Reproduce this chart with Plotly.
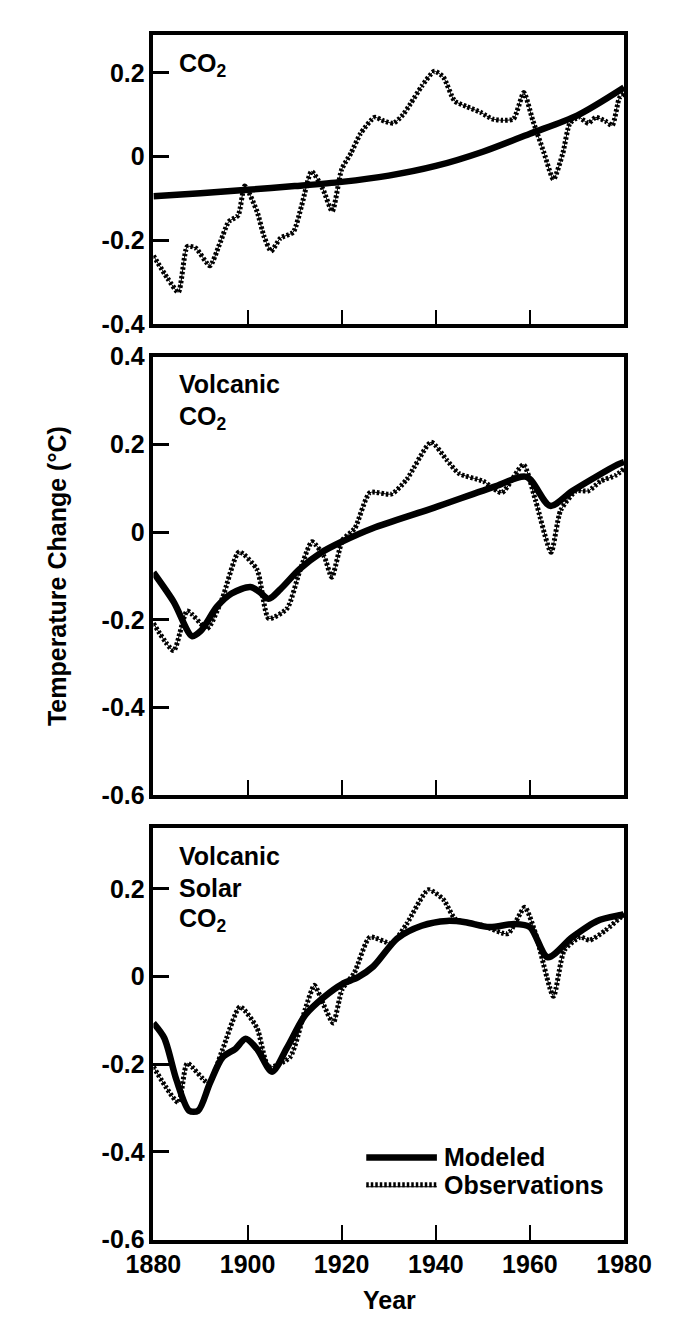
import plotly.graph_objects as go

# ---------------- data ----------------
# Panel 1: CO2 only
p1_model_years = [1880, 1890, 1900, 1910, 1920, 1930, 1940, 1950, 1960, 1970, 1980]
p1_model_vals = [-0.094, -0.087, -0.079, -0.070, -0.060, -0.045, -0.022, 0.012, 0.055, 0.098, 0.165]

p1_obs_years = [1880, 1883, 1885.3, 1887.2, 1889, 1892, 1894, 1896, 1898, 1899.4, 1902, 1903.5,
                1905, 1907, 1909.7, 1911.5, 1913.6, 1916, 1918, 1920, 1922, 1924, 1927, 1929,
                1931, 1933, 1934.6, 1937, 1939.7, 1941.6, 1944, 1946.5, 1949.5, 1952, 1954,
                1956.5, 1958.7, 1960.6, 1963, 1965, 1967, 1968.5, 1970.4, 1972.4, 1974, 1976,
                1977.5, 1979, 1980]
p1_obs_vals = [-0.236, -0.29, -0.323, -0.214, -0.218, -0.26, -0.21, -0.155, -0.14, -0.07, -0.13, -0.19,
               -0.225, -0.194, -0.18, -0.116, -0.035, -0.077, -0.13, -0.03, 0.009, 0.055, 0.094, 0.085,
               0.08, 0.10, 0.126, 0.168, 0.204, 0.19, 0.133, 0.12, 0.106, 0.09, 0.087,
               0.09, 0.153, 0.087, 0.009, -0.054, 0.009, 0.08, 0.094, 0.08, 0.094, 0.085,
               0.075, 0.14, 0.15]

# Panel 2: Volcanic + CO2
p2_model_years = [1880, 1884.3, 1888.2, 1890, 1893.5, 1896.6, 1900.6, 1902.5, 1904.5, 1907, 1911,
                  1915.6, 1920, 1926.6, 1939.7, 1952.8, 1959.3, 1964.3, 1969, 1978.6, 1980]
p2_model_vals = [-0.092, -0.159, -0.237, -0.226, -0.17, -0.14, -0.125, -0.136, -0.152, -0.13, -0.085,
                 -0.047, -0.022, 0.009, 0.056, 0.105, 0.126, 0.06, 0.094, 0.154, 0.16]

p2_obs_years = [1880, 1884.3, 1887.2, 1891.4, 1894.6, 1898.2, 1902, 1904.5, 1908.4, 1911, 1913.7,
                1916.3, 1917.9, 1920.2, 1922.8, 1926, 1930.6, 1933.8, 1939, 1942.3, 1944.9,
                1950.1, 1954, 1958.6, 1961.2, 1964.5, 1966.5, 1969.8, 1972.4, 1975, 1978.3, 1980]
p2_obs_vals = [-0.208, -0.27, -0.18, -0.22, -0.152, -0.045, -0.085, -0.197, -0.174, -0.092, -0.022,
               -0.056, -0.103, -0.018, 0.009, 0.09, 0.087, 0.12, 0.205, 0.165, 0.134,
               0.116, 0.09, 0.154, 0.072, -0.046, 0.049, 0.094, 0.094, 0.116, 0.13, 0.145]

# Panel 3: Volcanic + Solar + CO2
p3_model_years = [1880, 1882.3, 1884.9, 1887.6, 1889.5, 1892, 1894.7, 1897.4, 1899.6, 1902, 1905.2,
                  1908.4, 1912.3, 1916.2, 1920.1, 1923.4, 1926.7, 1931.8, 1937, 1942.4, 1946.3,
                  1951.4, 1956.7, 1960, 1963.8, 1969, 1974.3, 1979.8, 1980]
p3_model_vals = [-0.106, -0.14, -0.236, -0.306, -0.306, -0.243, -0.184, -0.165, -0.142, -0.165, -0.217,
                 -0.162, -0.087, -0.047, -0.017, -0.002, 0.023, 0.087, 0.116, 0.127, 0.124,
                 0.113, 0.12, 0.113, 0.044, 0.09, 0.127, 0.142, 0.143]

p3_obs_years = [1880, 1885.3, 1887.2, 1891.7, 1894.6, 1898.4, 1902, 1904.5, 1909, 1912.3, 1914.2,
                1916.2, 1918.2, 1920.1, 1922.7, 1926, 1930.6, 1933.8, 1938.4, 1941.6, 1944.2,
                1950.1, 1955.3, 1958.9, 1961.2, 1965, 1967.3, 1970.7, 1972.7, 1976, 1979.6, 1980]
p3_obs_vals = [-0.206, -0.287, -0.198, -0.243, -0.169, -0.069, -0.117, -0.206, -0.184, -0.073, -0.02,
               -0.065, -0.106, -0.029, 0.009, 0.09, 0.076, 0.12, 0.198, 0.176, 0.131,
               0.116, 0.098, 0.158, 0.098, -0.045, 0.06, 0.09, 0.083, 0.105, 0.138, 0.14]

x_tickvals = [1880, 1900, 1920, 1940, 1960, 1980]
x_ticktext = ["1880", "1900", "1920", "1940", "1960", "1980"]
p1_yticks = [0.2, 0, -0.2, -0.4]
p2_yticks = [0.4, 0.2, 0, -0.2, -0.4, -0.6]
p3_yticks = [0.2, 0, -0.2, -0.4, -0.6]
panel_labels = [["CO<sub>2</sub>"], ["Volcanic", "CO<sub>2</sub>"], ["Volcanic", "Solar", "CO<sub>2</sub>"]]
legend_names = ["Modeled", "Observations"]

def fmt(v):
    return "0" if v == 0 else ("%.1f" % v)

# ---------------- figure ----------------
W, H = 678, 1320
FONT = "Liberation Sans, Arial, Helvetica, sans-serif"
FS = 25
fig = go.Figure()

panels = [
    (p1_model_years, p1_model_vals, p1_obs_years, p1_obs_vals, "x", "y"),
    (p2_model_years, p2_model_vals, p2_obs_years, p2_obs_vals, "x2", "y2"),
    (p3_model_years, p3_model_vals, p3_obs_years, p3_obs_vals, "x3", "y3"),
]
OBS_DASH = "2.5px,2px"
for my, mv, oy, ov, xa, ya in panels:
    # observations: thin base line + thick hatch-like dashed line
    fig.add_trace(go.Scatter(x=oy, y=ov, xaxis=xa, yaxis=ya, mode="lines",
                             line=dict(color="black", width=1, shape="spline", smoothing=0.6),
                             showlegend=False, hoverinfo="skip"))
    fig.add_trace(go.Scatter(x=oy, y=ov, xaxis=xa, yaxis=ya, mode="lines",
                             line=dict(color="black", width=5, dash=OBS_DASH, shape="spline", smoothing=0.6),
                             showlegend=False, name="Observations"))
    fig.add_trace(go.Scatter(x=my, y=mv, xaxis=xa, yaxis=ya, mode="lines",
                             line=dict(color="black", width=6.5, shape="spline", smoothing=0.8),
                             showlegend=False, name="Modeled"))

def px_x(p):
    return p / W

def px_y(p):
    return 1 - p / H

x0, x1 = px_x(128), px_x(641)
doms = [(px_y(309), px_y(13)), (px_y(790), px_y(342)), (px_y(1244), px_y(823))]
ranges = [(-0.4, 0.291), (-0.6, 0.4), (-0.6, 0.34)]
yticks = [p1_yticks, p2_yticks, p3_yticks]

tickfont = dict(family=FONT, size=FS, color="black", weight="bold")
axcommon = dict(showline=True, mirror=True, linecolor="black", linewidth=3.5,
                showgrid=False, zeroline=False, fixedrange=True)
for i in range(3):
    sx = "" if i == 0 else str(i + 1)
    fig.layout["xaxis" + sx] = dict(
        domain=[x0, x1], range=[1880, 1980], anchor="y" + sx,
        tickmode="array", tickvals=x_tickvals, ticktext=x_ticktext,
        ticks="inside", ticklen=15, tickwidth=2, tickcolor="black",
        showticklabels=(i == 2), tickfont=tickfont, **axcommon)
    fig.layout["yaxis" + sx] = dict(
        domain=list(doms[i]), range=list(ranges[i]), anchor="x" + sx,
        tickmode="array", tickvals=yticks[i], ticktext=[fmt(v) for v in yticks[i]],
        ticks="inside", ticklen=16, tickwidth=3, tickcolor="black",
        tickfont=tickfont, **axcommon)

textfont = dict(family=FONT, size=FS, color="black", weight="bold")
annots = []
label_y = [[44], [370, 405], [852, 885, 917]]
for i, lines in enumerate(panel_labels):
    for j, t in enumerate(lines):
        annots.append(dict(x=px_x(154), y=px_y(label_y[i][j]), xref="paper", yref="paper",
                           text=t, showarrow=False, xanchor="left", yanchor="middle",
                           font=textfont))

# axis titles
annots.append(dict(x=px_x(23), y=px_y(566), xref="paper", yref="paper", text="Temperature Change (°C)",
                   textangle=-90, showarrow=False, xanchor="center", yanchor="middle",
                   font=textfont))
annots.append(dict(x=px_x(385), y=px_y(1306), xref="paper", yref="paper", text="Year",
                   showarrow=False, xanchor="center", yanchor="middle",
                   font=textfont))

# legend (manual)
leg_y = [1160, 1188]
for k, name in enumerate(legend_names):
    annots.append(dict(x=px_x(443), y=px_y(leg_y[k]), xref="paper", yref="paper", text=name,
                       showarrow=False, xanchor="left", yanchor="middle",
                       font=textfont))
shapes = [
    dict(type="line", xref="paper", yref="paper", x0=px_x(360), x1=px_x(437), y0=px_y(1160), y1=px_y(1160),
         line=dict(color="black", width=6.5)),
    dict(type="line", xref="paper", yref="paper", x0=px_x(360), x1=px_x(437), y0=px_y(1188), y1=px_y(1188),
         line=dict(color="black", width=5, dash=OBS_DASH)),
    dict(type="line", xref="paper", yref="paper", x0=px_x(360), x1=px_x(437), y0=px_y(1190), y1=px_y(1190),
         line=dict(color="black", width=1)),
]

fig.update_layout(width=W, height=H, margin=dict(l=0, r=0, t=0, b=0),
                  paper_bgcolor="white", plot_bgcolor="white",
                  annotations=annots, shapes=shapes, showlegend=False)

fig.write_html("out.html")
